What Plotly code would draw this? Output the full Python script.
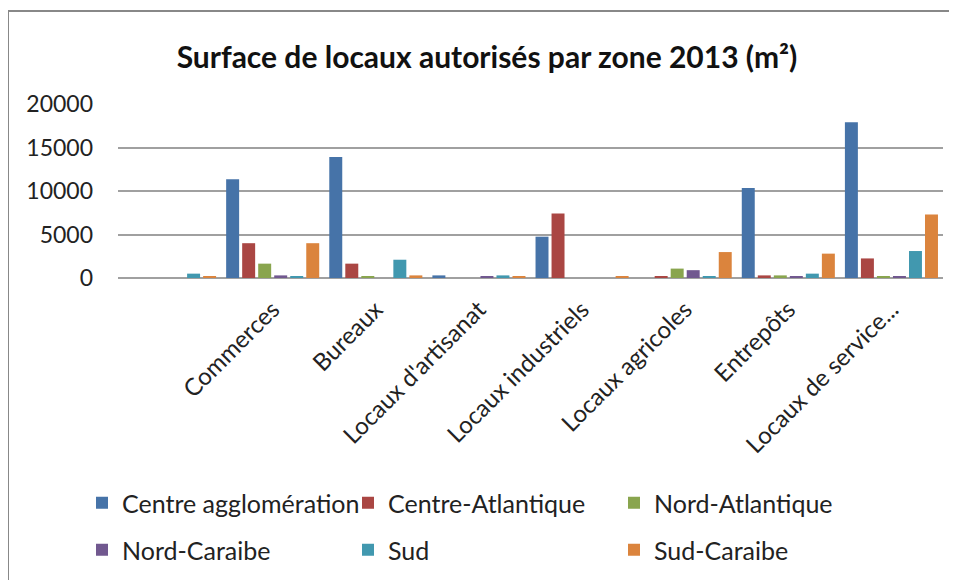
import plotly.graph_objects as go

categories = ["", "Commerces", "Bureaux", "Locaux d'artisanat", "Locaux industriels",
              "Locaux agricoles", "Entrepôts", "Locaux de service..."]
series_names = ["Centre agglomération", "Centre-Atlantique", "Nord-Atlantique",
                "Nord-Caraibe", "Sud", "Sud-Caraibe"]
centre_agglo = [0, 11350, 13900, 300, 4750, 0, 10350, 17900]
centre_atl = [0, 4000, 1650, 0, 7400, 150, 300, 2250]
nord_atl = [0, 1650, 200, 0, 0, 1080, 300, 150]
nord_car = [0, 300, 0, 170, 0, 900, 200, 150]
sud = [500, 200, 2100, 300, 0, 200, 500, 3100]
sud_car = [200, 4000, 300, 200, 200, 2980, 2800, 7300]
y_ticks = [0, 5000, 10000, 15000, 20000]
y_tick_labels = ["0", "5000", "10000", "15000", "20000"]

colors = ["#4673A8", "#AA4643", "#89A54E", "#71588F", "#4198AF", "#DB843D"]
values = [centre_agglo, centre_atl, nord_atl, nord_car, sud, sud_car]

FONT = "Lato"
x_idx = list(range(len(categories)))

fig = go.Figure()
for i, (name, vals) in enumerate(zip(series_names, values)):
    fig.add_trace(go.Bar(
        x=x_idx, y=vals, name=name,
        marker=dict(color=colors[i], line=dict(width=0)),
        legend="legend" if i < 3 else "legend2",
    ))

# page body has an 8px default margin: work in screen pixels and offset
OFF = 8
W, H = 957 - OFF, 580 - OFF
L = 118 - OFF
R = 957 - 943
T = 104 - OFF
B = 580 - 278
pw = W - L - R
ph = H - T - B

def px_x(x):
    return (x - OFF - L) / pw

def px_y(y):
    return (H - B - (y - OFF)) / ph

fig.update_layout(
    width=W, height=H,
    margin=dict(l=L, r=R, t=T, b=B, autoexpand=False),
    paper_bgcolor="white", plot_bgcolor="white",
    barmode="group", bargap=0.068, bargroupgap=0.19,
    font=dict(family=FONT, size=24, color="#222222"),
    title=dict(text="<b>Surface de locaux autorisés par zone 2013 (m²)</b>",
               x=(487 - OFF) / W, xanchor="center", y=1 - (57 - OFF) / H,
               yanchor="middle",
               font=dict(family=FONT, size=30, color="#111111")),
    xaxis=dict(tickmode="array", tickvals=x_idx, ticktext=categories,
               range=[-0.5, len(categories) - 0.5], tickangle=-45,
               showgrid=False, showline=False, zeroline=False,
               ticks="outside", ticklen=7, tickcolor="rgba(0,0,0,0)",
               tickfont=dict(family=FONT, size=24, color="#222222")),
    yaxis=dict(range=[0, 20000], tickvals=y_ticks, ticktext=y_tick_labels,
               showgrid=True, gridcolor="#A0A0A0", gridwidth=1.5, zeroline=True,
               zerolinecolor="#A0A0A0", zerolinewidth=1.5,
               ticks="", ticklabelstandoff=24, showline=False,
               tickfont=dict(family=FONT, size=23, color="#222222")),
    legend=dict(orientation="h", x=px_x(82), xanchor="left",
                y=px_y(503), yanchor="middle", entrywidth=221,
                entrywidthmode="pixels", font=dict(family=FONT, size=25),
                bgcolor="rgba(0,0,0,0)"),
    legend2=dict(orientation="h", x=px_x(82), xanchor="left",
                 y=px_y(550), yanchor="middle", entrywidth=221,
                 entrywidthmode="pixels", font=dict(family=FONT, size=25),
                 bgcolor="rgba(0,0,0,0)"),
    shapes=[dict(type="rect", xref="paper", yref="paper",
                 x0=px_x(8), x1=px_x(970), y0=px_y(600), y1=px_y(11),
                 line=dict(color="#888888", width=2), layer="below")],
)

fig.write_html("out.html")
